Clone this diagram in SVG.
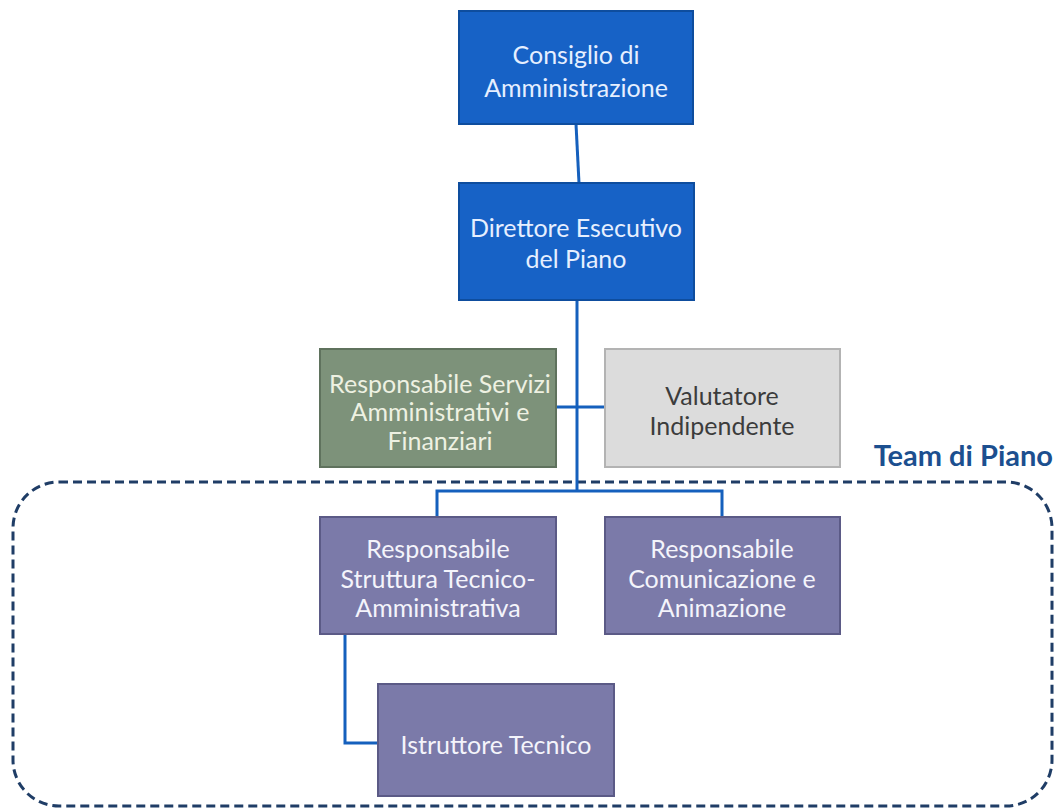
<svg xmlns="http://www.w3.org/2000/svg" width="1055" height="811" viewBox="0 0 1055 811">
<style>
text{font-family:Lato,"Open Sans","Liberation Sans",sans-serif;font-size:25px;text-anchor:middle;dominant-baseline:central}
.blue rect{fill:#1762c6;stroke:#0e4d9e;stroke-width:2}
.blue text{fill:#e6efff}
.green rect{fill:#7d927a;stroke:#5f725d;stroke-width:2}
.green text{fill:#eef1e2}
.grey rect{fill:#dcdcdc;stroke:#b3b3b3;stroke-width:2}
.grey text{fill:#3c3c3c}
.purple rect{fill:#7b7aa9;stroke:#5b5a86;stroke-width:2}
.purple text{fill:#f4f4fb}
.conn{fill:none;stroke:#1560bd;stroke-width:3}
</style>
<rect id="team" x="13" y="482" width="1039" height="324" rx="46" ry="46" fill="none" stroke="#1f3d66" stroke-width="3" stroke-dasharray="9,5"/>
<text x="1053" y="454" style="font-weight:bold;font-size:29px;text-anchor:end;fill:#1c4f8f">Team di Piano</text>
<g id="connectors">
<path class="conn" d="M576,124 L579,183"/>
<path class="conn" d="M577,300 L577,491"/>
<path class="conn" d="M556,407 L605,407"/>
<path class="conn" d="M437,517 L437,491 L722,491 L722,517"/>
<path class="conn" d="M345,634 L345,743 L378,743"/>
</g>
<g id="consiglio" class="blue"><rect x="459" y="11" width="234" height="113"/><text x="576" y="54">Consiglio di</text><text x="576" y="87">Amministrazione</text></g>
<g id="direttore" class="blue"><rect x="459" y="183" width="235" height="117"/><text x="576" y="227">Direttore Esecutivo</text><text x="576" y="258">del Piano</text></g>
<g id="servizi" class="green"><rect x="320" y="349" width="236" height="118"/><text x="440" y="383">Responsabile Servizi</text><text x="440" y="411">Amministrativi e</text><text x="440" y="440">Finanziari</text></g>
<g id="valutatore" class="grey"><rect x="605" y="349" width="235" height="118"/><text x="722" y="395">Valutatore</text><text x="722" y="425">Indipendente</text></g>
<g id="struttura" class="purple"><rect x="320" y="517" width="236" height="117"/><text x="438" y="548">Responsabile</text><text x="438" y="578">Struttura Tecnico-</text><text x="438" y="607">Amministrativa</text></g>
<g id="comunicazione" class="purple"><rect x="605" y="517" width="235" height="117"/><text x="722" y="548">Responsabile</text><text x="722" y="578">Comunicazione e</text><text x="722" y="607">Animazione</text></g>
<g id="istruttore" class="purple"><rect x="378" y="684" width="236" height="112"/><text x="496" y="744">Istruttore Tecnico</text></g>
</svg>
